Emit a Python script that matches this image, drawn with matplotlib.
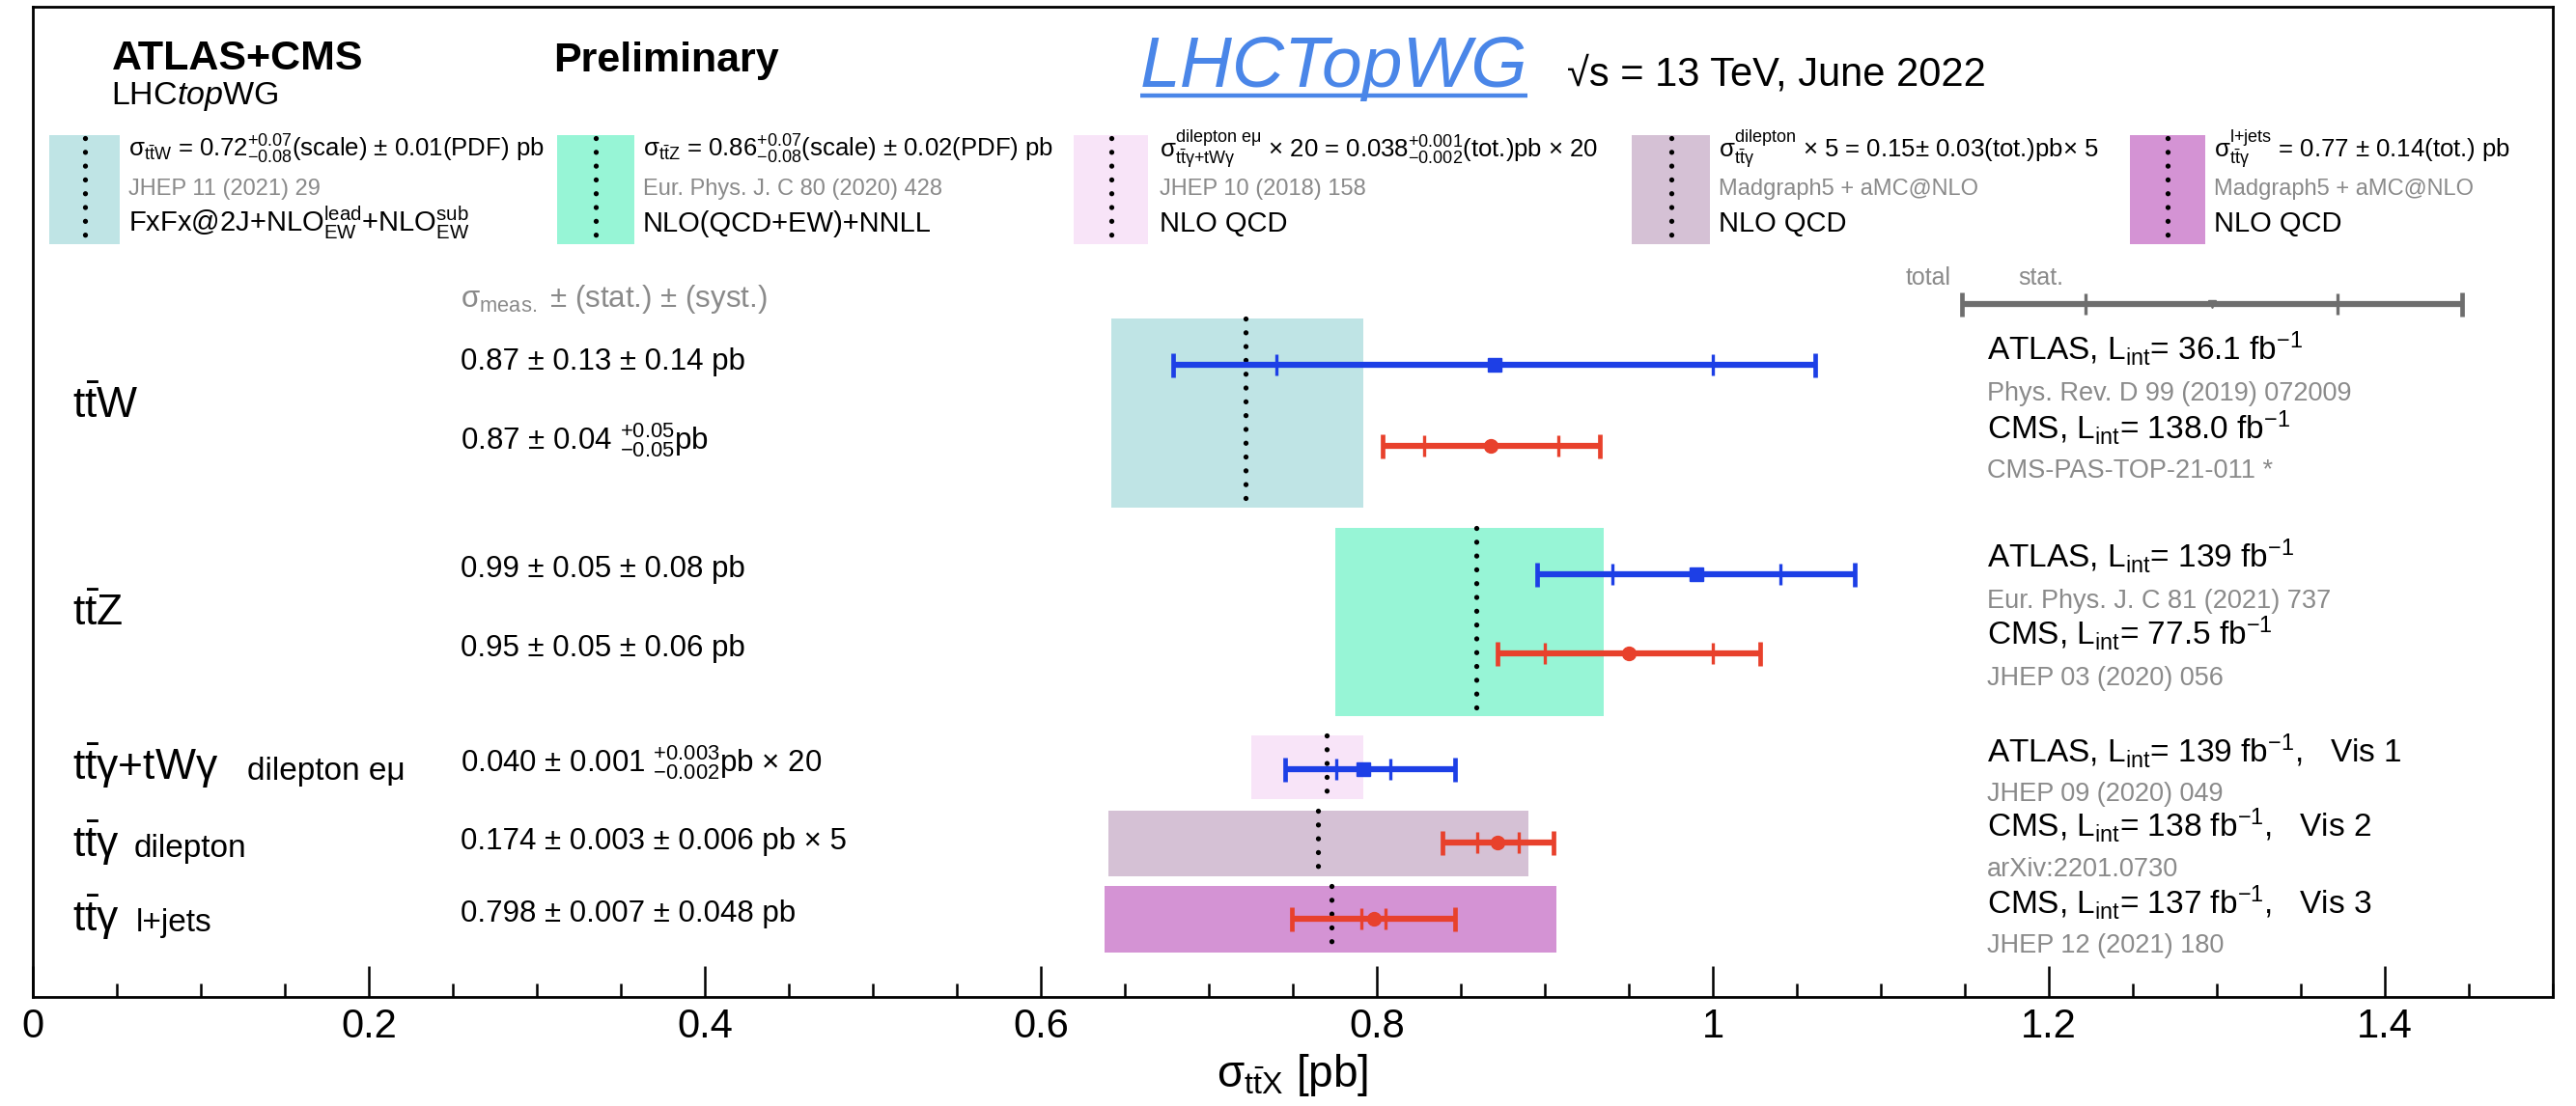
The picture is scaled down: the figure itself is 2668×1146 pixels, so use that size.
import numpy as np
import matplotlib
matplotlib.use('Agg')  # no display
import matplotlib.pyplot as plt
from matplotlib.ticker import MultipleLocator

plt.rcParams['font.family'] = ['Liberation Sans', 'DejaVu Sans']
plt.rcParams['mathtext.fontset'] = 'custom'
plt.rcParams['mathtext.rm'] = 'Liberation Sans'
plt.rcParams['mathtext.it'] = 'Liberation Sans:italic'
plt.rcParams['mathtext.bf'] = 'Liberation Sans:bold'
plt.rcParams['mathtext.sf'] = 'Liberation Sans'

# ---- measurements (ATLAS / CMS), values in pb (scaled where noted) ----
meas_experiment = ['ATLAS', 'CMS', 'ATLAS', 'CMS', 'ATLAS', 'CMS', 'CMS']
meas_value = [0.87, 0.868, 0.99, 0.95, 0.792, 0.872, 0.798]
meas_stat = [0.13, 0.040, 0.05, 0.05, 0.016, 0.0125, 0.007]
meas_syst_up = [0.14, 0.051, 0.08, 0.06, 0.052, 0.0305, 0.048]
meas_syst_dn = [0.14, 0.051, 0.08, 0.06, 0.044, 0.0305, 0.048]

meas_text = [
    r'0.87 ± 0.13 ± 0.14 pb',
    r'0.87 ± 0.04 ${}^{+0.05}_{-0.05}$pb',
    r'0.99 ± 0.05 ± 0.08 pb',
    r'0.95 ± 0.05 ± 0.06 pb',
    r'0.040 ± 0.001 ${}^{+0.003}_{-0.002}$pb × 20',
    r'0.174 ± 0.003 ± 0.006 pb × 5',
    r'0.798 ± 0.007 ± 0.048 pb',
]
exp_text = [
    r'ATLAS, L$_{\mathrm{int}}$= 36.1 fb$^{-1}$',
    r'CMS, L$_{\mathrm{int}}$= 138.0 fb$^{-1}$',
    r'ATLAS, L$_{\mathrm{int}}$= 139 fb$^{-1}$',
    r'CMS, L$_{\mathrm{int}}$= 77.5 fb$^{-1}$',
    r'ATLAS, L$_{\mathrm{int}}$= 139 fb$^{-1}$,   Vis 1',
    r'CMS, L$_{\mathrm{int}}$= 138 fb$^{-1}$,   Vis 2',
    r'CMS, L$_{\mathrm{int}}$= 137 fb$^{-1}$,   Vis 3',
]
exp_ref = ['Phys. Rev. D 99 (2019) 072009', 'CMS-PAS-TOP-21-011 *',
           'Eur. Phys. J. C 81 (2021) 737', 'JHEP 03 (2020) 056',
           'JHEP 09 (2020) 049', 'arXiv:2201.0730', 'JHEP 12 (2021) 180']

# ---- theory predictions ----
theory_value = [0.722, 0.859, 0.770, 0.765, 0.773]
theory_lo = [0.642, 0.775, 0.725, 0.640, 0.638]
theory_hi = [0.792, 0.935, 0.792, 0.890, 0.907]
theory_colors = ['#bfe4e5', '#97f5d6', '#f8e4f8', '#d5c1d5', '#d493d4']
theory_line1 = [
    r'σ$_{\mathrm{t\bar{t}W}}$ = 0.72$^{+0.07}_{-0.08}$(scale) ± 0.01(PDF) pb',
    r'σ$_{\mathrm{t\bar{t}Z}}$ = 0.86$^{+0.07}_{-0.08}$(scale) ± 0.02(PDF) pb',
    r'σ$^{\mathrm{dilepton\ e\mu}}_{\mathrm{t\bar{t}\gamma{+}tW\gamma}}$ × 20 = 0.038$^{+0.001}_{-0.002}$(tot.)pb × 20',
    r'σ$^{\mathrm{dilepton}}_{\mathrm{t\bar{t}\gamma}}$ × 5 = 0.15± 0.03(tot.)pb× 5',
    r'σ$^{\mathrm{l{+}jets}}_{\mathrm{t\bar{t}\gamma}}$ = 0.77 ± 0.14(tot.) pb',
]
theory_ref = ['JHEP 11 (2021) 29', 'Eur. Phys. J. C 80 (2020) 428', 'JHEP 10 (2018) 158',
              'Madgraph5 + aMC@NLO', 'Madgraph5 + aMC@NLO']
theory_calc = [r'FxFx@2J+NLO$^{\mathrm{lead}}_{\mathrm{EW}}$+NLO$^{\mathrm{sub}}_{\mathrm{EW}}$',
               'NLO(QCD+EW)+NNLL', 'NLO QCD', 'NLO QCD', 'NLO QCD']

process_main = [r'$\mathrm{t\bar{t}W}$', r'$\mathrm{t\bar{t}Z}$', r'$\mathrm{t\bar{t}\gamma{+}tW\gamma}$',
                r'$\mathrm{t\bar{t}\gamma}$', r'$\mathrm{t\bar{t}\gamma}$']
process_sub = ['', '', 'dilepton eμ', 'dilepton', 'l+jets']

# legend errorbar (total / stat.)
key_value, key_stat, key_total = 1.297, 0.075, 0.149

# ---- layout (vertical positions in pixel rows from the top) ----
row_y = [378, 462, 595, 677, 797, 873, 952]
band_y = [(330, 526), (547, 742), (762, 828), (840, 908), (918, 987)]
meas_text_y = [383, 465, 598, 680, 800, 880, 955]
exp_text_y = [373, 455, 588, 668, 790, 867, 947]
exp_ref_y = [415, 495, 630, 710, 830, 908, 987]
proc_y = [433, 648, 808, 888, 965]
proc_sub_x = [0, 0, 0.1275, 0.060, 0.0616]
box_x = [(0.0098, 0.0517), (0.312, 0.358), (0.6195, 0.664), (0.952, 0.998), (1.248, 1.293)]
box_text_x = [0.057, 0.363, 0.6705, 1.0036, 1.298]

BLUE = '#1d3fe6'
RED = '#e8412c'
GREY = '#8a8a8a'

fig = plt.figure(figsize=(26.68, 11.46), dpi=100)
ax = fig.add_axes([34 / 2668, 1 - 1033 / 1146, (2644 - 34) / 2668, (1033 - 7) / 1146])
ax.set_xlim(0, 1.5)
ax.set_ylim(1033, 7)

# theory bands + dotted central lines
for i in range(len(theory_value)):
    y0, y1 = band_y[i]
    ax.fill_betweenx([y0, y1], theory_lo[i], theory_hi[i], color=theory_colors[i], lw=0, zorder=1)
    ax.plot([theory_value[i]] * 2, [y0, y1], color='black', lw=3.8,
            ls=(0, (0.01, 2.7)), dash_capstyle='round', zorder=2)
    # header legend box
    bx0, bx1 = box_x[i]
    ax.fill_betweenx([140, 253], bx0, bx1, color=theory_colors[i], lw=0, zorder=1)
    ax.plot([(bx0 + bx1) / 2] * 2, [143, 252], color='black', lw=3.8,
            ls=(0, (0.01, 2.7)), dash_capstyle='round', zorder=2)
    ax.text(box_text_x[i], 163, theory_line1[i], fontsize=18.5, va='baseline', ha='left')
    ax.text(box_text_x[i], 202, theory_ref[i], fontsize=17, color=GREY, va='baseline', ha='left')
    ax.text(box_text_x[i], 240, theory_calc[i], fontsize=21, va='baseline', ha='left')


def draw_meas(y, val, stat, up, dn, color, marker):
    tot_up = np.hypot(stat, up)
    tot_dn = np.hypot(stat, dn)
    ax.errorbar([val], [y], xerr=[[tot_dn], [tot_up]], fmt='none', ecolor=color,
                elinewidth=4.5, capsize=9, capthick=3.4, zorder=4)
    ax.plot([val - stat, val + stat], [y, y], ls='none', marker='|', ms=16, mew=2.4,
            color=color, zorder=5)
    ax.plot([val], [y], ls='none', marker=marker, ms=10, color=color, zorder=6)


for i in range(len(meas_value)):
    is_atlas = meas_experiment[i] == 'ATLAS'
    draw_meas(row_y[i], meas_value[i], meas_stat[i], meas_syst_up[i], meas_syst_dn[i],
              BLUE if is_atlas else RED, 's' if is_atlas else 'o')
    ax.text(0.2544, meas_text_y[i], meas_text[i], fontsize=22.5, va='baseline', ha='left')
    ax.text(1.163, exp_text_y[i], exp_text[i], fontsize=24, va='baseline', ha='left')
    ax.text(1.163, exp_ref_y[i], exp_ref[i], fontsize=19.5, color=GREY, va='baseline', ha='left')

# process labels
for i in range(len(process_main)):
    ax.text(0.0237, proc_y[i], process_main[i], fontsize=32, va='baseline', ha='left')
    if process_sub[i]:
        ax.text(proc_sub_x[i], proc_y[i], process_sub[i], fontsize=24, va='baseline', ha='left')

# column header and key
ax.text(0.2544, 318, r'σ$_{\mathrm{meas.}}$ ± (stat.) ± (syst.)', fontsize=22.5, color=GREY,
        va='baseline', ha='left')
ax.text(1.128, 295, 'total', fontsize=18, color=GREY, va='baseline', ha='center')
ax.text(1.195, 295, 'stat.', fontsize=18, color=GREY, va='baseline', ha='center')
ax.errorbar([key_value], [315], xerr=[[key_total], [key_total]], fmt='none', ecolor='#6e6e6e',
            elinewidth=4.5, capsize=9, capthick=3.4)
ax.plot([key_value - key_stat, key_value + key_stat], [315, 315], ls='none', marker='|',
        ms=16, mew=2.4, color='#6e6e6e')
ax.plot([key_value], [315], ls='none', marker='v', ms=6, color='#6e6e6e')

# header
ax.text(0.0468, 72, 'ATLAS+CMS', fontsize=31, fontweight='bold', va='baseline', ha='left')
ax.text(0.0468, 108, r'LHC$\mathit{top}$WG', fontsize=24.5, va='baseline', ha='left')
ax.text(0.310, 74, 'Preliminary', fontsize=31, fontweight='bold', va='baseline', ha='left')
title = ax.text(0.659, 90, 'LHCTopWG', fontsize=54, style='italic', color='#4a86e8',
                va='baseline', ha='left')
ax.text(0.913, 88, '√s = 13 TeV, June 2022', fontsize=30, va='baseline', ha='left')

fig.canvas.draw()
bb = title.get_window_extent().transformed(ax.transData.inverted())
ax.plot([bb.x0, bb.x1], [99, 99], color='#4a86e8', lw=3.2, solid_capstyle='butt')

# axis
ax.xaxis.set_major_locator(MultipleLocator(0.2))
ax.xaxis.set_minor_locator(MultipleLocator(0.05))
ax.xaxis.set_major_formatter(plt.FuncFormatter(lambda v, p: f'{v:g}'))
ax.tick_params(axis='x', which='major', direction='in', length=23, width=1.8, labelsize=30, pad=8)
ax.tick_params(axis='x', which='minor', direction='in', length=10, width=1.8)
ax.set_yticks([])
for s in ax.spines.values():
    s.set_linewidth(2)
ax.set_xlabel(r'σ$_{\mathrm{t\bar{t}X}}$ [pb]', fontsize=33, labelpad=4)

fig.savefig('out.png', dpi=100, facecolor='white')
